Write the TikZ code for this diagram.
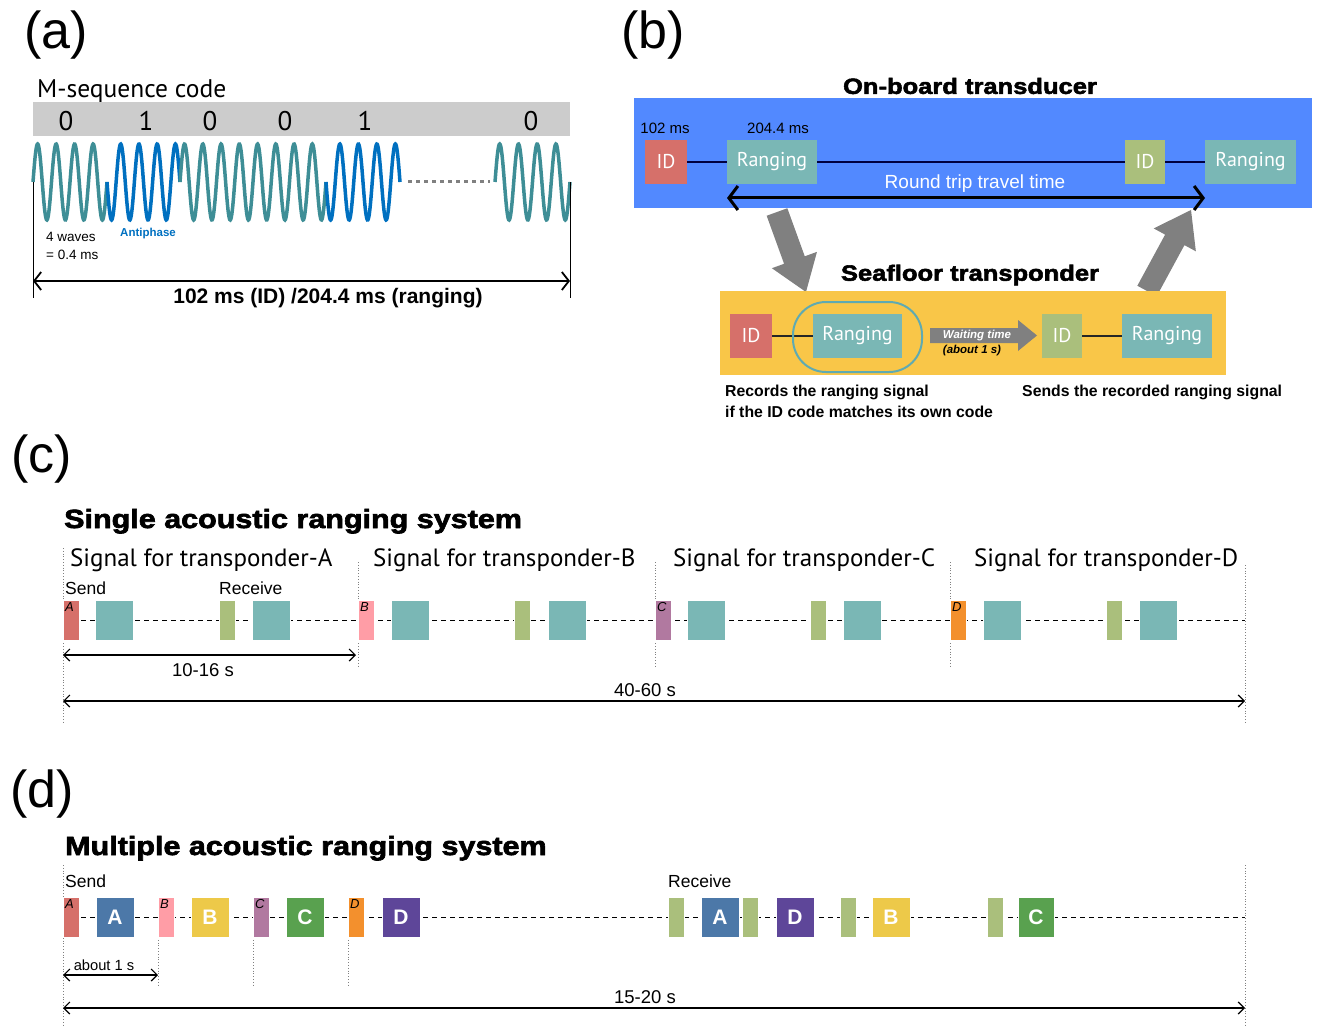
\documentclass[tikz,border=0pt]{standalone}
\usepackage{fontspec}
\setmainfont{Liberation Sans}
\newfontfamily\myr{PT Sans}
\newfontfamily\heavy[FakeBold=2.5,FakeStretch=1.16]{Liberation Sans Bold}
\usetikzlibrary{arrows.meta,calc}
\newcommand\fsz[1]{\fontsize{#1}{#1}\selectfont}
\definecolor{cRed}{RGB}{214,112,106}
\definecolor{cTeal}{RGB}{122,183,181}
\definecolor{cOlive}{RGB}{170,191,124}
\definecolor{cPink}{RGB}{255,157,166}
\definecolor{cPurple}{RGB}{177,121,160}
\definecolor{cOrange}{RGB}{243,144,45}
\definecolor{cBlueA}{RGB}{76,120,168}
\definecolor{cYellowB}{RGB}{237,201,73}
\definecolor{cGreenC}{RGB}{89,161,79}
\definecolor{cPurpleD}{RGB}{94,70,153}
\definecolor{bgBlue}{RGB}{82,137,255}
\definecolor{bgYellow}{RGB}{249,198,72}
\definecolor{barGray}{RGB}{204,204,204}
\definecolor{arrGray}{RGB}{128,128,128}
\definecolor{waveTeal}{RGB}{62,142,150}
\definecolor{waveBlue}{RGB}{0,112,192}
\definecolor{ringTeal}{RGB}{95,170,178}
\begin{document}
\begin{tikzpicture}[x=1pt,y=-1pt,
  blk/.style={anchor=north west, inner sep=0pt, outer sep=0pt, minimum height=40pt, draw=white, line width=0.6pt},
  nar/.style={blk, minimum width=16pt},
  wid/.style={blk, minimum width=38pt, text=white, font=\bfseries\fsz{21}},
  tag/.style={anchor=north west, inner sep=2pt, font=\itshape\fsz{13}},
  bbox/.style={anchor=north west, inner sep=0pt, outer sep=0pt, minimum height=44pt, text=white, font=\myr\fsz{20}},
  dimarr/.style={{Straight Barb[length=6pt,width=12pt]}-{Straight Barb[length=6pt,width=12pt]}, line width=1.2pt},
  vdot/.style={gray, dotted, line width=0.8pt},
  dsh/.style={dash pattern=on 5pt off 4pt, line width=1pt},
  plabel/.style={font=\fsz{52}, inner sep=0pt},
  title/.style={anchor=base west, inner sep=0pt, font=\heavy\fsz{26.3}},
  sig/.style={anchor=base west, inner sep=0pt, font=\myr\fsz{25}},
  txt/.style={inner sep=0pt, font=\fsz{17.5}},
  dimtxt/.style={inner sep=0pt, font=\fsz{18.5}},
  wave/.style={line width=3.5pt}
]
\useasboundingbox (0,0) rectangle (1322,1027);

%% ---------------- (a)
\node[plabel] (la) at (56,35) {(a)};
\node[anchor=base west, inner sep=0pt, font=\myr\fsz{25.5}] (mseq) at (37,98) {M-sequence code};
\node[anchor=north west, fill=barGray, minimum width=537pt, minimum height=34pt, inner sep=0pt] (bar) at (33,102) {};
\foreach \xx/\dd [count=\i] in {66/0,146/1,210/0,285/0,365/1,531/0}
  \node[font=\myr\fsz{27}, inner sep=0pt] (dig\i) at (\xx,121) {\dd};
\draw[wave, waveTeal] plot[domain=33:107, samples=160, smooth] (\x,{182-38*sin((\x-33)*19.4595)});
\draw[wave, waveBlue] plot[domain=107:180, samples=160, smooth] (\x,{182+38*sin((\x-107)*19.726)});
\draw[wave, waveTeal] plot[domain=180:326, samples=300, smooth] (\x,{182-38*sin((\x-180)*19.726)});
\draw[wave, waveBlue] plot[domain=326:400, samples=160, smooth] (\x,{182+38*sin((\x-326)*19.4595)});
\draw[wave, waveTeal] plot[domain=495:570, samples=160, smooth] (\x,{182-38*sin((\x-495)*19.2)});
\coordinate (dtL) at (408,182); \coordinate (dtR) at (490,182);
\draw[arrGray, line width=3pt, dash pattern=on 4pt off 4pt] (dtL) -- (dtR);
\coordinate (vaL1) at (33,182); \coordinate (vaL2) at (33,298);
\coordinate (vaR1) at (570,182); \coordinate (vaR2) at (570,298);
\draw[line width=0.8pt] (vaL1) -- (vaL2);
\draw[line width=0.8pt] (vaR1) -- (vaR2);
\coordinate (aL) at (33,281); \coordinate (aR) at (570,281);
\draw[{Straight Barb[length=7pt,width=18pt]}-{Straight Barb[length=7pt,width=18pt]}, line width=1.8pt] (aL) -- (aR);
\node[inner sep=0pt, font=\bfseries\fsz{21}] (alen) at (328,298) {102 ms (ID) /204.4 ms (ranging)};
\node[anchor=west, inner sep=0pt, font=\fsz{13.5}] (w4) at (46,237) {4 waves};
\node[anchor=west, inner sep=0pt, font=\fsz{13.5}] (w04) at (46,255) {= 0.4 ms};
\node[anchor=west, inner sep=0pt, font=\bfseries\fsz{11.5}, text=waveBlue] (anti) at (120,234) {Antiphase};

%% ---------------- (b)
\node[plabel] (lb) at (653,35) {(b)};
\node[inner sep=0pt, font=\heavy\fsz{22}] (obt) at (970,86) {On-board transducer};
\node[anchor=north west, fill=bgBlue, minimum width=678pt, minimum height=110pt, inner sep=0pt] (bgb) at (634,98) {};
\node[inner sep=0pt, font=\fsz{15}] (t102) at (665,128) {102 ms};
\node[inner sep=0pt, font=\fsz{15}] (t204) at (778,128) {204.4 ms};
\node[bbox, fill=cRed, minimum width=42pt] (id1) at (645,140) {ID};
\node[bbox, fill=cTeal, minimum width=90pt] (rg1) at (727,140) {Ranging};
\node[bbox, fill=cOlive, minimum width=40pt] (id2) at (1125,140) {ID};
\node[bbox, fill=cTeal, minimum width=91pt] (rg2) at (1205,140) {Ranging};
\draw[line width=1.2pt, black!75!blue] (id1) -- (rg1);
\draw[line width=1.2pt, black!75!blue] (rg1) -- (id2);
\draw[line width=1.2pt, black!75!blue] (id2) -- (rg2);
\node[inner sep=0pt, font=\fsz{19}, text=white] (rtt) at (975,184) {Round trip travel time};
\coordinate (rtL) at (727,198); \coordinate (rtR) at (1205,198);
\draw[{Straight Barb[length=9pt,width=24pt]}-{Straight Barb[length=9pt,width=24pt]}, line width=3pt] (rtL) -- (rtR);
% big gray arrows
\coordinate (g1t) at (777,212); \coordinate (g1p) at (806,292);
\coordinate (g1b) at ($(g1p)!34pt!(g1t)$);
\fill[arrGray] ($(g1t)!11pt!90:(g1p)$) -- ($(g1b)!11pt!90:(g1p)$) -- ($(g1b)!24pt!90:(g1p)$) -- (g1p)
  -- ($(g1b)!24pt!-90:(g1p)$) -- ($(g1b)!11pt!-90:(g1p)$) -- ($(g1t)!11pt!-90:(g1p)$) -- cycle;
\coordinate (g2t) at (1147,291); \coordinate (g2p) at (1191,210);
\coordinate (g2b) at ($(g2p)!34pt!(g2t)$);
\fill[arrGray] ($(g2t)!11pt!90:(g2p)$) -- ($(g2b)!11pt!90:(g2p)$) -- ($(g2b)!24pt!90:(g2p)$) -- (g2p)
  -- ($(g2b)!24pt!-90:(g2p)$) -- ($(g2b)!11pt!-90:(g2p)$) -- ($(g2t)!11pt!-90:(g2p)$) -- cycle;
\node[inner sep=0pt, font=\heavy\fsz{22}] (sft) at (970,275) {Seafloor transponder};
\node[anchor=north west, fill=bgYellow, minimum width=506pt, minimum height=84pt, inner sep=0pt] (bgy) at (720,291) {};
\node[bbox, fill=cRed, minimum width=42pt] (id3) at (730,314) {ID};
\node[bbox, fill=cTeal, minimum width=89pt] (rg3) at (813,314) {Ranging};
\node[bbox, fill=cOlive, minimum width=40pt] (id4) at (1042,314) {ID};
\node[bbox, fill=cTeal, minimum width=90pt] (rg4) at (1122,314) {Ranging};
\draw[line width=1.2pt, black!85] (id3) -- (rg3);
\draw[line width=1.2pt, black!85] (id4) -- (rg4);
\node[draw=ringTeal, line width=2pt, rounded corners=33pt, minimum width=129pt, minimum height=70pt, inner sep=0pt] (ring) at (857.5,337) {};
\coordinate (wt0) at (930,328);
\fill[arrGray] (wt0) -- (1018,328) -- (1018,320) -- (1037,335.5) -- (1018,351) -- (1018,343) -- (930,343) -- cycle;
\node[inner sep=0pt, font=\bfseries\itshape\fsz{11.5}, text=white] (wtt) at (977,335.5) {Waiting time};
\node[inner sep=0pt, font=\bfseries\itshape\fsz{11.5}] (wta) at (972,351) {(about 1 s)};
\node[anchor=base west, inner sep=0pt, font=\bfseries\fsz{15.8}] (rec1) at (725,396) {Records the ranging signal};
\node[anchor=base west, inner sep=0pt, font=\bfseries\fsz{15.8}] (rec2) at (725,417) {if the ID code matches its own code};
\node[anchor=base west, inner sep=0pt, font=\bfseries\fsz{15.8}] (snd) at (1022,396) {Sends the recorded ranging signal};

%% ---------------- (c)
\node[plabel] (lc) at (42,459) {(c)};
\node[title] (ctitle) at (64,528) {Single acoustic ranging system};
\node[sig] (sA) at (70,566) {Signal for transponder-A};
\node[sig] (sB) at (373,566) {Signal for transponder-B};
\node[sig] (sC) at (673,566) {Signal for transponder-C};
\node[sig] (sD) at (974,566) {Signal for transponder-D};
\node[anchor=base west, txt] (csend) at (65,594) {Send};
\node[anchor=base west, txt] (crecv) at (219,594) {Receive};
\coordinate (cv1a) at (63,548); \coordinate (cv1b) at (63,722);
\coordinate (cv2a) at (358,562); \coordinate (cv2b) at (358,668);
\coordinate (cv3a) at (655,562); \coordinate (cv3b) at (655,668);
\coordinate (cv4a) at (950,562); \coordinate (cv4b) at (950,668);
\coordinate (cv5a) at (1245,565); \coordinate (cv5b) at (1245,722);
\draw[vdot] (cv1a) -- (cv1b); \draw[vdot] (cv2a) -- (cv2b); \draw[vdot] (cv3a) -- (cv3b);
\draw[vdot] (cv4a) -- (cv4b); \draw[vdot] (cv5a) -- (cv5b);
\coordinate (cdl) at (63,620); \coordinate (cdr) at (1245,620);
\draw[dsh] (cdl) -- (cdr);
\node[nar, fill=cRed] (cA) at (63,600) {};
\node[tag] (cAt) at (cA.north west) {A};
\node[blk, fill=cTeal, minimum width=38pt] (cA1) at (95,600) {};
\node[blk, fill=cOlive, minimum width=16pt] (cA2) at (219,600) {};
\node[blk, fill=cTeal, minimum width=38pt] (cA3) at (252,600) {};
\node[nar, fill=cPink] (cB) at (358,600) {};
\node[tag] (cBt) at (cB.north west) {B};
\node[blk, fill=cTeal, minimum width=38pt] (cB1) at (391,600) {};
\node[blk, fill=cOlive, minimum width=16pt] (cB2) at (514,600) {};
\node[blk, fill=cTeal, minimum width=38pt] (cB3) at (548,600) {};
\node[nar, fill=cPurple] (cC) at (655,600) {};
\node[tag] (cCt) at (cC.north west) {C};
\node[blk, fill=cTeal, minimum width=38pt] (cC1) at (687,600) {};
\node[blk, fill=cOlive, minimum width=16pt] (cC2) at (810,600) {};
\node[blk, fill=cTeal, minimum width=38pt] (cC3) at (843,600) {};
\node[nar, fill=cOrange] (cD) at (950,600) {};
\node[tag] (cDt) at (cD.north west) {D};
\node[blk, fill=cTeal, minimum width=38pt] (cD1) at (983,600) {};
\node[blk, fill=cOlive, minimum width=16pt] (cD2) at (1106,600) {};
\node[blk, fill=cTeal, minimum width=38pt] (cD3) at (1139,600) {};
\coordinate (c10a) at (63,655); \coordinate (c10b) at (356,655);
\draw[dimarr] (c10a) -- (c10b);
\node[dimtxt] (c10) at (203,670) {10-16 s};
\coordinate (c40a) at (63,701); \coordinate (c40b) at (1245,701);
\draw[dimarr] (c40a) -- (c40b);
\node[dimtxt] (c40) at (645,690) {40-60 s};

%% ---------------- (d)
\node[plabel] (ld) at (42,794) {(d)};
\node[title] (dtitle) at (65,855) {Multiple acoustic ranging system};
\node[anchor=base west, txt] (dsend) at (65,887) {Send};
\node[anchor=base west, txt] (drecv) at (668,887) {Receive};
\coordinate (dv1a) at (63,865); \coordinate (dv1b) at (63,1025);
\coordinate (dv2a) at (158,937); \coordinate (dv2b) at (158,985);
\coordinate (dv3a) at (253,937); \coordinate (dv3b) at (253,985);
\coordinate (dv4a) at (348,937); \coordinate (dv4b) at (348,985);
\coordinate (dv5a) at (1245,865); \coordinate (dv5b) at (1245,1025);
\draw[vdot] (dv1a) -- (dv1b); \draw[vdot] (dv2a) -- (dv2b); \draw[vdot] (dv3a) -- (dv3b);
\draw[vdot] (dv4a) -- (dv4b); \draw[vdot] (dv5a) -- (dv5b);
\coordinate (ddl) at (63,917); \coordinate (ddr) at (1245,917);
\draw[dsh] (ddl) -- (ddr);
\node[nar, fill=cRed] (dA) at (63,897) {};
\node[tag] (dAt) at (dA.north west) {A};
\node[wid, fill=cBlueA] (dAA) at (96,897) {A};
\node[nar, fill=cPink] (dB) at (158,897) {};
\node[tag] (dBt) at (dB.north west) {B};
\node[wid, fill=cYellowB] (dBB) at (191,897) {B};
\node[nar, fill=cPurple] (dC) at (253,897) {};
\node[tag] (dCt) at (dC.north west) {C};
\node[wid, fill=cGreenC] (dCC) at (286,897) {C};
\node[nar, fill=cOrange] (dD) at (348,897) {};
\node[tag] (dDt) at (dD.north west) {D};
\node[wid, fill=cPurpleD] (dDD) at (382,897) {D};
\node[nar, fill=cOlive] (r1) at (668,897) {};
\node[wid, fill=cBlueA] (rA) at (701,897) {A};
\node[nar, fill=cOlive] (r2) at (742,897) {};
\node[wid, fill=cPurpleD] (rD) at (776,897) {D};
\node[nar, fill=cOlive] (r3) at (840,897) {};
\node[wid, fill=cYellowB] (rB) at (872,897) {B};
\node[nar, fill=cOlive] (r4) at (987,897) {};
\node[wid, fill=cGreenC, minimum width=36pt] (rC) at (1018,897) {C};
\coordinate (d1a) at (63,975); \coordinate (d1b) at (158,975);
\draw[dimarr] (d1a) -- (d1b);
\node[inner sep=0pt, font=\fsz{14.7}] (d1) at (104,965) {about 1 s};
\coordinate (d15a) at (63,1008); \coordinate (d15b) at (1245,1008);
\draw[dimarr] (d15a) -- (d15b);
\node[dimtxt] (d15) at (645,997) {15-20 s};
\end{tikzpicture}
\end{document}
